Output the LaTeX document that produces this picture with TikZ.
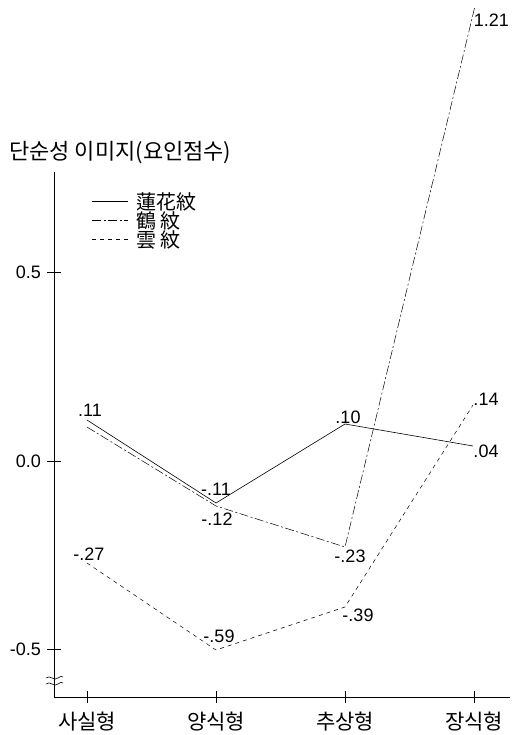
\documentclass[tikz,border=0pt]{standalone}
\usepackage{fontspec}
\setmainfont{Liberation Sans}
\newfontfamily\kr{Noto Sans CJK KR}
\begin{document}
\begin{tikzpicture}[x=1pt,y=-1pt,
  axis/.style={line width=0.8pt,black},
  tickmark/.style={line width=0.6pt},
  ser1/.style={line width=0.6pt},
  ser2/.style={line width=0.5pt,dash pattern=on 9pt off 2.5pt on 2pt off 2.5pt},
  ser3/.style={line width=0.5pt,dash pattern=on 4pt off 4pt},
  val/.style={font=\fontsize{18}{18}\selectfont,inner sep=0pt},
  cat/.style={font=\kr\fontsize{21}{21}\selectfont,inner sep=0pt},
  leg/.style={font=\kr\fontsize{20}{20}\selectfont,inner sep=0pt,anchor=west}]
\useasboundingbox (0,0) rectangle (512,735);
% axes
\coordinate (ytop) at (54,172);
\coordinate (orig) at (54,697);
\coordinate (xend) at (510,697);
\draw[axis] (ytop) -- (orig) -- (xend);
% y ticks
\foreach \y/\t in {272/0.5,461/0.0,649/-0.5}{
  \draw[tickmark] (47,\y) -- (61,\y);
  \node[val,anchor=east] at (41,\y) {\t};
}
% break mark
\draw[line width=0.6pt] (46,678) .. controls (50,674) and (54,682) .. (58,678) .. controls (60,676) and (62,676) .. (63,677);
\draw[line width=0.6pt] (46,684) .. controls (50,680) and (54,688) .. (58,684) .. controls (60,682) and (62,682) .. (63,683);
% x ticks and categories
\foreach \x/\t in {87/사실형,216/양식형,345/추상형,474/장식형}{
  \draw[tickmark] (\x,691) -- (\x,703);
  \node[cat] at (\x,722) {\t};
}
% title
\node[font=\kr\fontsize{22}{22}\selectfont,inner sep=0pt,anchor=west] (title) at (9,153) {단순성 이미지(요인점수)};
% legend
\coordinate (l1a) at (92,201); \coordinate (l1b) at (128,201);
\coordinate (l2a) at (92,220); \coordinate (l2b) at (128,220);
\coordinate (l3a) at (92,239); \coordinate (l3b) at (128,239);
\draw[ser1] (l1a) -- (l1b);
\draw[ser2] (l2a) -- (l2b);
\draw[ser3] (l3a) -- (l3b);
\node[leg] (t1) at (136,202) {蓮花紋};
\node[leg] (t2) at (136,221) {鶴 紋};
\node[leg] (t3) at (136,240) {雲 紋};
% series 1 (solid)
\coordinate (a1) at (87,420);
\coordinate (a2) at (216,503);
\coordinate (a3) at (345,424);
\coordinate (a4) at (473,446);
\draw[ser1] (a1) -- (a2) -- (a3) -- (a4);
% series 2 (dash-dot)
\coordinate (b1) at (87,427);
\coordinate (b2) at (216,506);
\coordinate (b3) at (345,547);
\coordinate (b4) at (475,6);
\draw[ser2] (b1) -- (b2) -- (b3) -- (b4);
% series 3 (dashed)
\coordinate (c1) at (87,563);
\coordinate (c2) at (216,650);
\coordinate (c3) at (345,607);
\coordinate (c4) at (473,405);
\draw[ser3] (c1) -- (c2) -- (c3) -- (c4);
% value labels
\node[val] (v1) at (90,410) {.11};
\node[val] (v2) at (216,489) {-.11};
\node[val] (v3) at (217,519) {-.12};
\node[val] (v4) at (348,417) {.10};
\node[val] (v5) at (486,451) {.04};
\node[val] (v6) at (486,399) {.14};
\node[val] (v7) at (350,556) {-.23};
\node[val] (v8) at (89,554) {-.27};
\node[val] (v9) at (219,636) {-.59};
\node[val] (v10) at (358,615) {-.39};
\node[val,anchor=east] (v11) at (509,20) {1.21};
\end{tikzpicture}
\end{document}
